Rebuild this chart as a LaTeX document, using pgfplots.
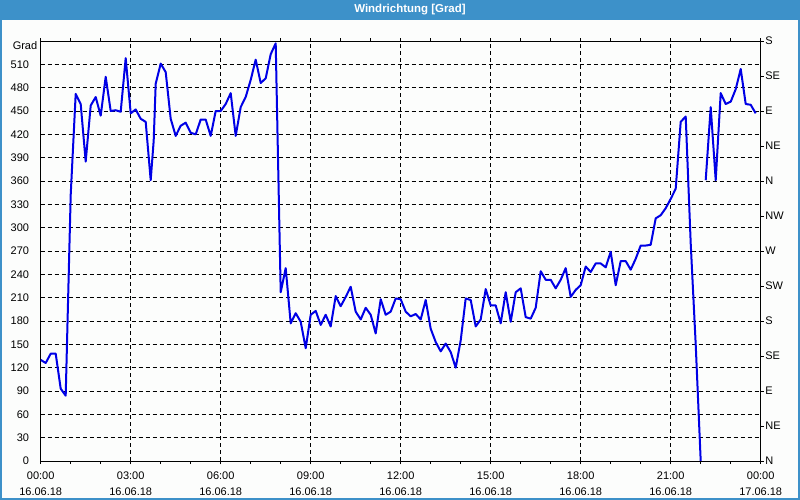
\documentclass[border=0pt]{standalone}
\usepackage{pgfplots}
\pgfplotsset{compat=1.18}
\usepackage{fontspec}
\setmainfont{Liberation Sans}
\definecolor{titleblue}{RGB}{61,145,201}
\definecolor{lineblue}{RGB}{0,0,230}
\definecolor{winbg}{RGB}{252,253,252}
\begin{document}
\begin{tikzpicture}[x=0.75bp,y=0.75bp]
\useasboundingbox (0,0) rectangle (800,500);
\fill[winbg] (0,0) rectangle (800,500);
\fill[titleblue] (0,480) rectangle (800,500);
\fill[titleblue] (0,0) rectangle (2,480);
\fill[titleblue] (798,0) rectangle (800,480);
\fill[titleblue] (0,0) rectangle (800,2);
\node[text=white, font=\bfseries\fontsize{8.6bp}{10bp}\selectfont] at (410,490) {Windrichtung [Grad]};
\begin{axis}[
  at={(30.525bp,29.25bp)}, anchor=south west, scale only axis,
  width=540bp, height=315bp,
  xmin=0, xmax=1440, ymin=0, ymax=540,
  axis line style={black, line width=0.75bp},
  xtick={0,180,...,1440},
  xticklabels={{00:00\\16.06.18},{03:00\\16.06.18},{06:00\\16.06.18},{09:00\\16.06.18},{12:00\\16.06.18},{15:00\\16.06.18},{18:00\\16.06.18},{21:00\\16.06.18},{00:00\\17.06.18}},
  minor xtick={60,120,...,1380},
  ytick={0,30,...,510},
  grid=major,
  major grid style={black, dash pattern=on 3bp off 2.25bp, line width=0.75bp},
  tick align=outside,
  major tick length=2.25bp, minor tick length=2.25bp,
  xtick style={black, line width=0.75bp},
  minor tick style={black, line width=0.75bp},
  ytick style={draw=none},
  /pgf/number format/assume math mode=true,
  tick label style={font=\fontsize{8.25bp}{12bp}\selectfont},
  xticklabel style={align=center, yshift=-2bp},
  yticklabel style={xshift=-3bp},
]
\addplot[lineblue, line width=1.5bp, line join=round] coordinates {
(0,130)(10,126)(20,138)(30,138)(40,93)(50,84)(60,342)(70,472)(80,459)(90,385)(100,457)(110,468)(120,444)(130,494)(140,450)(150,451)(160,449)(170,518)(180,447)(190,452)(200,440)(210,436)(220,361)(226,412)(230,485)(240,511)(250,500)(260,440)(270,418)(280,431)(290,435)(300,422)(310,420)(320,439)(330,439)(340,418)(350,450)(360,450)(370,459)(380,473)(390,418)(400,455)(410,468)(420,490)(430,516)(440,486)(450,492)(460,523)(470,537)(480,217)(490,248)(500,177)(510,190)(520,179)(530,145)(540,188)(550,193)(560,175)(570,188)(580,173)(590,212)(600,199)(610,211)(620,224)(630,192)(640,182)(650,197)(660,188)(670,164)(680,208)(690,188)(700,192)(710,209)(720,208)(730,192)(740,186)(750,189)(760,182)(770,207)(780,170)(790,153)(800,141)(810,151)(820,140)(830,120)(840,155)(850,209)(860,207)(870,173)(880,182)(890,221)(900,200)(910,200)(920,177)(930,217)(940,179)(950,217)(960,222)(970,185)(980,183)(990,197)(1000,244)(1010,233)(1020,233)(1030,222)(1040,233)(1050,248)(1060,211)(1070,220)(1080,226)(1090,250)(1100,243)(1110,254)(1120,254)(1130,249)(1140,269)(1150,226)(1160,257)(1170,257)(1180,246)(1190,260)(1200,277)(1210,277)(1220,278)(1230,312)(1240,316)(1250,325)(1260,337)(1270,350)(1280,436)(1290,443)(1300,280)(1310,150)(1320,0)
};
\addplot[lineblue, line width=1.5bp, line join=round] coordinates {
(1330,361)(1340,455)(1350,361)(1360,473)(1370,459)(1380,462)(1390,478)(1400,504)(1410,459)(1420,458)(1430,447)
};
\end{axis}
\begin{axis}[
  at={(30.525bp,29.25bp)}, anchor=south west, scale only axis,
  width=540bp, height=315bp,
  xmin=0, xmax=1440, ymin=0, ymax=540,
  axis x line=none, axis y line*=right,
  axis line style={black, line width=0.75bp},
  ytick={0,45,...,540},
  yticklabels={N,NE,E,SE,S,SW,W,NW,N,NE,E,SE,S},
  tick align=outside, major tick length=2.25bp,
  ytick style={black, line width=0.75bp},
  yticklabel style={font=\fontsize{8.25bp}{12bp}\selectfont, inner sep=1bp},
]
\end{axis}
\node[font=\fontsize{8.25bp}{10bp}\selectfont] at (25,454.3) {Grad};
\end{tikzpicture}
\end{document}
